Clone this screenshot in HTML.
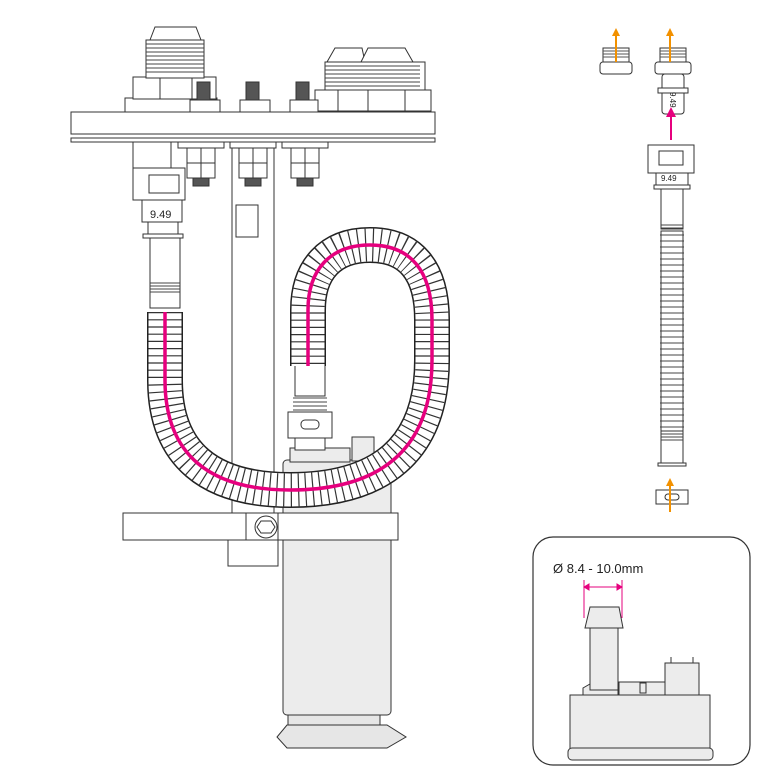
<!DOCTYPE html>
<html><head><meta charset="utf-8"><style>
html,body{margin:0;padding:0;background:#fff}
svg{display:block}
text{font-family:"Liberation Sans",sans-serif}
</style></head><body>
<svg width="780" height="780" viewBox="0 0 780 780" xmlns="http://www.w3.org/2000/svg">
<defs>
<marker id="pa" viewBox="0 0 10 10" refX="5" refY="5" markerWidth="5" markerHeight="5" orient="auto-start-reverse"><path d="M0,0 L10,5 L0,10z" fill="#e6007e"/></marker>
<marker id="oa" viewBox="0 0 10 10" refX="5" refY="5" markerWidth="4" markerHeight="4" orient="auto"><path d="M0,0 L10,5 L0,10z" fill="#f29100"/></marker>
<path id="h" d="M165,312 L165,380 C165,455 210,490 290,490 C380,490 432,450 432,360 L432,320 C432,270 410,245 370,245 C330,245 308,270 308,310 L308,366"/>
</defs>
<g fill="#fff" stroke="#333" stroke-width="1">
<rect x="232" y="138" width="42" height="375"/>
<rect x="236" y="205" width="22" height="32"/>
<rect x="283" y="460" width="108" height="255" rx="4" fill="#ececec"/>
<rect x="290" y="448" width="60" height="14" fill="#ececec"/>
<rect x="352" y="437" width="22" height="24" fill="#ececec"/>
<rect x="288" y="715" width="92" height="10" fill="#e6e6e6"/>
<path d="M287,725 L387,725 L406,737 L387,748 L287,748 L277,737 Z" fill="#e6e6e6"/>
<rect x="123" y="513" width="275" height="27"/>
<rect x="228" y="540" width="50" height="26"/>
<rect x="246" y="513" width="32" height="27"/>
<circle cx="266" cy="527" r="11"/>
<polygon points="261,521 271,521 275,527 271,533 261,533 257,527"/>
<rect x="71" y="112" width="364" height="22"/>
<rect x="71" y="138" width="364" height="4"/>
<rect x="125" y="98" width="92" height="14"/>
<rect x="133" y="77" width="83" height="22"/>
<line x1="160" y1="77" x2="160" y2="99"/><line x1="192" y1="77" x2="192" y2="99"/>
<rect x="146" y="40" width="58" height="38" fill="#fff"/>
<path d="M150,40 L155,27 L196,27 L201,40 Z"/>
<g stroke="#444"><path d="M146,44H204M146,48H204M146,52H204M146,56H204M146,60H204M146,64H204M146,68H204M146,72H204"/></g>
<rect x="315" y="90" width="116" height="21"/>
<line x1="338" y1="90" x2="338" y2="111"/><line x1="368" y1="90" x2="368" y2="111"/><line x1="405" y1="90" x2="405" y2="111"/>
<rect x="325" y="62" width="100" height="28"/>
<path d="M327,62 L335,48 L362,48 L365,62 Z"/><path d="M361,62 L368,48 L405,48 L413,62 Z"/>
<g stroke="#444"><path d="M325,66H420M325,70H420M325,74H420M325,78H420M325,82H420M325,86H420"/></g>
<rect x="190" y="100" width="30" height="12"/><rect x="197" y="82" width="13" height="18" fill="#555"/>
<rect x="240" y="100" width="30" height="12"/><rect x="246" y="82" width="13" height="18" fill="#555"/>
<rect x="290" y="100" width="28" height="12"/><rect x="296" y="82" width="13" height="18" fill="#555"/>
<rect x="178" y="142" width="46" height="6"/><rect x="187" y="148" width="28" height="30"/><line x1="201" y1="148" x2="201" y2="178"/><line x1="187" y1="163" x2="215" y2="163"/><rect x="193" y="178" width="16" height="8" fill="#555"/>
<rect x="230" y="142" width="46" height="6"/><rect x="239" y="148" width="28" height="30"/><line x1="253" y1="148" x2="253" y2="178"/><line x1="239" y1="163" x2="267" y2="163"/><rect x="245" y="178" width="16" height="8" fill="#555"/>
<rect x="282" y="142" width="46" height="6"/><rect x="291" y="148" width="28" height="30"/><line x1="305" y1="148" x2="305" y2="178"/><line x1="291" y1="163" x2="319" y2="163"/><rect x="297" y="178" width="16" height="8" fill="#555"/>
<rect x="133" y="142" width="38" height="28"/>
<rect x="133" y="168" width="52" height="32"/>
<rect x="149" y="175" width="30" height="18"/>
<rect x="142" y="200" width="40" height="22"/>
<rect x="148" y="222" width="30" height="12"/>
<rect x="143" y="234" width="40" height="4"/>
<rect x="150" y="238" width="30" height="70"/>
<g stroke="#444"><path d="M150,283H180M150,286H180M150,289H180M150,292H180"/></g>
<rect x="295" y="362" width="30" height="34"/>
<g stroke="#444"><path d="M293,398H327M293,402H327M293,406H327M293,410H327"/></g>
<rect x="288" y="412" width="44" height="26"/>
<rect x="301" y="420" width="18" height="9" rx="4"/>
<rect x="295" y="438" width="30" height="12"/>
</g>
<text x="150" y="218" font-size="11" fill="#222">9.49</text>
<use href="#h" fill="none" stroke="#222" stroke-width="36"/>
<use href="#h" fill="none" stroke="#fff" stroke-width="33"/>
<use href="#h" fill="none" stroke="#333" stroke-width="33" stroke-dasharray="1.2 6"/>
<use href="#h" fill="none" stroke="#e6007e" stroke-width="3.5"/>
<g fill="#fff" stroke="#333" stroke-width="1">
<rect x="603" y="48" width="26" height="14"/><g stroke="#555"><path d="M603,51H629M603,54H629M603,57H629"/></g>
<rect x="600" y="62" width="32" height="12" rx="3"/>
<rect x="660" y="48" width="26" height="14"/><g stroke="#555"><path d="M660,51H686M660,54H686M660,57H686"/></g>
<rect x="655" y="62" width="36" height="12" rx="3"/>
<rect x="662" y="74" width="22" height="40" rx="3"/>
<rect x="658" y="88" width="30" height="5"/>
<rect x="648" y="145" width="46" height="28"/>
<rect x="659" y="151" width="24" height="14"/>
<rect x="656" y="173" width="32" height="12"/>
<rect x="654" y="185" width="36" height="4"/>
<rect x="661" y="189" width="22" height="40"/>
<g stroke="#444"><path d="M661,225H683M661,228H683M661,231H683"/></g>
<rect x="661" y="231" width="22" height="200"/>
<g stroke="#444"><path d="M660,235H684M660,241H684M660,247H684M660,253H684M660,259H684M660,265H684M660,271H684M660,277H684M660,283H684M660,289H684M660,295H684M660,301H684M660,307H684M660,313H684M660,319H684M660,325H684M660,331H684M660,337H684M660,343H684M660,349H684M660,355H684M660,361H684M660,367H684M660,373H684M660,379H684M660,385H684M660,391H684M660,397H684M660,403H684M660,409H684M660,415H684M660,421H684M660,427H684"/></g>
<rect x="661" y="431" width="22" height="32"/>
<g stroke="#444"><path d="M661,434H683M661,437H683M661,440H683"/></g>
<rect x="658" y="463" width="28" height="3"/>
<rect x="656" y="490" width="32" height="14"/>
<rect x="665" y="494" width="14" height="6" rx="3"/>
</g>
<text x="664" y="102" font-size="8" fill="#222" transform="rotate(90 672 100)">9.49</text>
<text x="661" y="181" font-size="8" fill="#222">9.49</text>
<line x1="671" y1="140" x2="671" y2="112" stroke="#e6007e" stroke-width="2" marker-end="url(#pa)"/>
<g stroke="#f29100" stroke-width="2">
<line x1="616" y1="62" x2="616" y2="32" marker-end="url(#oa)"/>
<line x1="670" y1="62" x2="670" y2="32" marker-end="url(#oa)"/>
<line x1="670" y1="512" x2="670" y2="482" marker-end="url(#oa)"/>
</g>
<rect x="533" y="537" width="217" height="228" rx="20" fill="#fff" stroke="#333" stroke-width="1.2"/>
<text x="553" y="573" font-size="13" fill="#222">Ø 8.4 - 10.0mm</text>
<g stroke="#e6007e" stroke-width="1">
<line x1="584" y1="580" x2="584" y2="618"/><line x1="622" y1="580" x2="622" y2="618"/>
<line x1="587" y1="587" x2="619" y2="587"/>
<path d="M584,587 l5,-3 v6z M622,587 l-5,-3 v6z" fill="#e6007e"/>
</g>
<g fill="#ececec" stroke="#333" stroke-width="1">
<rect x="570" y="695" width="140" height="55"/>
<path d="M583,695 L583,688 L590,684 L618,684 L618,695 Z"/>
<rect x="590" y="620" width="28" height="70"/>
<path d="M585,628 L590,607 L619,607 L623,628 Z"/>
<rect x="619" y="682" width="50" height="13"/><rect x="640" y="683" width="6" height="10"/>
<rect x="665" y="663" width="34" height="32"/>
<path d="M671,663V657M693,663V657"/>
<rect x="568" y="748" width="145" height="12" rx="4"/>
</g>
</svg>
</body></html>
